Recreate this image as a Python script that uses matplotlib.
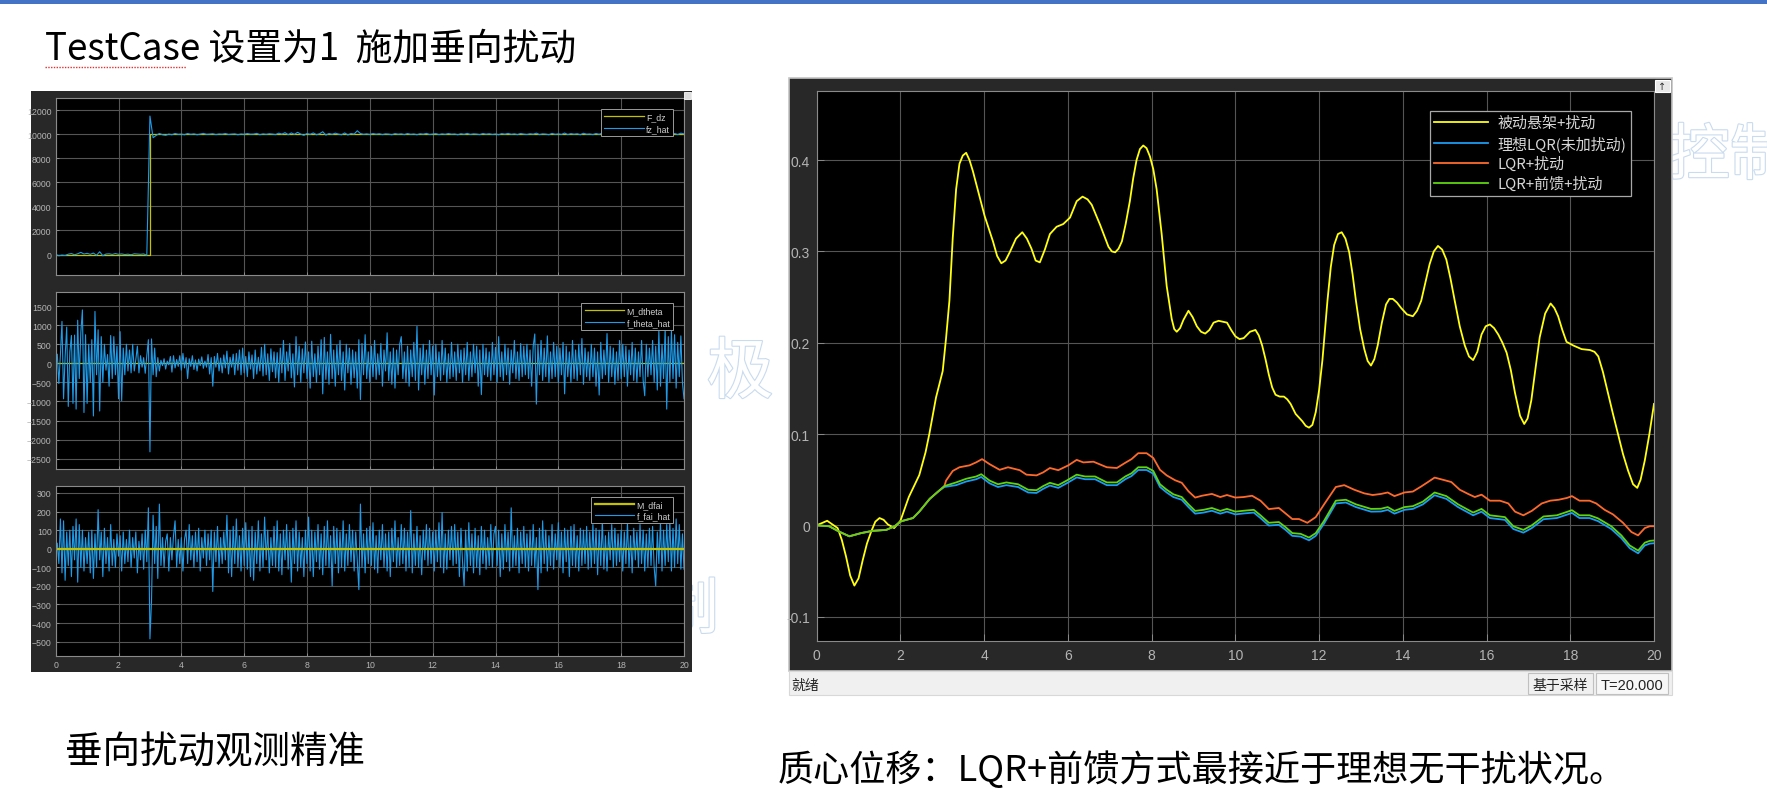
import numpy as np
import matplotlib.pyplot as plt
from matplotlib.patches import Rectangle
from matplotlib.lines import Line2D
import matplotlib.patheffects as pe

W, H = 1767, 804
CJK = ['Noto Sans CJK SC', 'DejaVu Sans']
plt.rcParams['font.family'] = CJK

# ---- left scope: fz_hat (0.1 s steps), F_dz step
fz_hat = [
    0, -100, -50, -80, 30, 80, -20, 60, 180, 40,
    100, 20, 120, -60, 230, -100, 40, 60, 10, 80,
    20, 50, 0, 30, -20, 60, 40, 20, 50, -60,
    11500, 9700, 9900, 10050, 9950, 9900, 10000, 9950, 10050, 9980,
    10000, 9950, 10050, 9980, 10020, 9950, 10000, 10060, 9980, 10000,
    10030, 9960, 10010, 9990, 10050, 9970, 10000, 10020, 9950, 10010,
    9980, 10050, 9990, 10000, 10060, 9950, 10020, 9980, 10030, 10000,
    9960, 10080, 10000, 10120, 9950, 10100, 9980, 10150, 10000, 9900,
    10050, 9980, 10100, 9950, 10030, 10200, 9920, 10050, 9980, 10080,
    10000, 9950, 10100, 9930, 10050, 10000, 10280, 10050, 9980, 10020,
    9970, 10050, 9990, 10030, 9960, 10020, 10000, 9950, 10040, 9990,
    10020, 9960, 10050, 9980, 10010, 9950, 10030, 9990, 10060, 9970,
    10000, 10040, 9960, 10020, 9980, 10050, 9990, 10010, 9950, 10030,
    9980, 10060, 9970, 10020, 10000, 9960, 10050, 9990, 10030, 9970,
    10010, 9950, 10040, 9990, 10060, 9980, 10020, 9960, 10050, 10000,
    9970, 10030, 9990, 10080, 9960, 10020, 10000, 9950, 10060, 9980,
    10020, 9970, 10090, 9960, 10040, 9990, 10030, 9950, 10070, 9990,
    10010, 9960, 10050, 9980, 10100, 9970, 10030, 9990, 10060, 9960,
    10040, 9980, 10110, 9950, 10070, 9990, 10080, 9960, 10050, 10000,
    9960, 10090, 9980, 10060, 9940, 10100, 9970, 10050, 9960, 10080,
    10020,
]
fdz_t = [0, 3, 3, 20]
fdz = [0, 0, 10000, 10000]

# ---- f_theta_hat (0.05 s steps), M_dtheta = 0
f_theta_hat = [
    0, 240, -530, 230, 1100, -930, 180, 950, -1130, 300, 730, -1050, 740, -1200, 1130, -400, 810, 1400, -1290, 750,
    -1050, 500, -500, 620, -1380, 1360, -300, 880, -1250, 700, -500, 500, -180, 230, -600, 730, -400, 700, -300, 450,
    -930, 830, -980, 400, -300, 500, -200, 350, -250, 500, -200, 100, 450, -250, 200, -100, 150, -260, 200, 620,
    -2320, 640, -300, 400, -350, 150, -200, 80, -60, 120, -150, 60, -40, 180, -230, 200, -120, 100, -80, 200,
    -180, 260, -120, 150, -400, 120, -80, 200, -160, 90, -200, 110, -60, 170, -130, 60, -100, 230, -280, 150,
    -600, 180, -100, 260, -200, 140, -250, 220, -120, 320, -280, 160, -100, 240, -300, 260, -180, 350, -300, 400,
    -250, 180, -350, 300, -150, 220, -400, 350, -280, 160, -200, 420, -330, 500, -300, 250, -450, 380, -220, 300,
    -380, 280, -500, 400, -250, 600, -450, 300, -200, 520, -380, 250, -620, 700, -300, 450, -500, 380, -250, 560,
    -400, 300, -650, 580, -350, 250, -500, 450, -300, 620, -800, 680, -420, 300, -550, 760, -400, 350, -600, 480,
    -300, 600, -450, 300, -700, 500, -250, 400, -550, 350, -380, 300, -650, 620, -950, 520, -300, 750, -400, 300,
    -500, 450, -350, 600, -420, 250, -300, 520, -600, 350, -200, 800, -450, 300, -550, 400, -650, 350, -300, 500,
    700, -400, 300, -500, 450, -600, 350, -350, 550, -450, 970, -700, 400, -300, 500, -550, 350, -400, 600, -300,
    450, -830, 500, -350, 300, -450, 600, -300, 400, -500, 250, -400, 550, -350, 300, -450, 500, -250, 350, -500,
    400, -300, 550, -450, 300, -350, 500, -250, 450, -600, 350, -820, 500, -300, 400, -350, 300, -450, 550, -300,
    420, -500, 700, -350, 300, -450, 500, -300, 400, -550, 350, -250, 600, -400, 300, -450, 520, -350, 450, -300,
    500, -400, 350, -600, 450, 770, -1070, 500, -300, 600, -450, 400, -350, 720, -500, 300, -400, 550, -350, 450,
    -500, 400, -300, 550, -800, 450, -350, 300, -500, 600, -400, 350, -450, 500, -300, 650, -550, 400, -350, 300,
    -450, 500, -350, 400, -600, 300, -830, 550, -400, 350, -300, 780, -500, 450, -350, 400, -550, 300, -450, 600,
    -400, 500, -350, 450, -600, 350, -300, 550, -450, 400, -500, 300, -350, 600, -450, -850, 500, -350, 400, -300,
    600, -500, 450, -700, 850, -600, 500, -400, 900, -1200, 700, -500, 850, -400, 750, -650, 550, -350, 720, -500,
    -930,
]

# ---- f_fai_hat (0.05 s steps), M_dfai = 0
f_fai_hat = [
    0, 30, -80, 160, -130, 150, -170, 90, -90, 100, -150, 120, -60, 160, -180, 130, -100, 100, -120, 60,
    -80, 90, -130, 100, -160, 80, -100, 210, -60, 90, -150, 110, -80, 60, -120, 130, -90, 50, -100, 80,
    -40, 70, -120, 90, -80, 50, -70, 100, -100, 60, -50, 90, -130, 40, -60, 80, -110, 100, -70, 220,
    -485, -280, 180, -80, 120, -160, 240, -90, 60, -100, 40, 80, -120, 60, -60, 70, 150, -100, 50, -80,
    60, -120, 50, 100, -80, 130, -60, 70, -100, 90, -70, 110, -120, 60, -50, 100, -90, 80, -60, 100,
    -230, 90, -70, 120, -100, 60, -80, 90, -60, 180, -130, 100, -150, 120, -80, 160, -100, 70, -120, 110,
    -90, 140, -110, 100, -150, 120, -170, 90, -80, 150, -120, 80, -100, 170, -60, 100, -130, 60, -90, 120,
    -100, 150, -120, 80, -140, 100, -60, 130, -110, 90, -180, 110, -80, 150, -120, 90, -100, 60, -150, 100,
    -80, 170, -120, 100, -150, 90, -70, 130, -110, 80, -140, 120, -90, 150, -100, 70, -200, 120, -80, 110,
    -130, 90, -100, 150, -120, 80, -90, 130, -70, 100, -120, 90, -60, -220, 240, -100, 80, -130, 110, -80,
    120, -90, 140, -110, 70, -130, 100, -60, 130, -100, 80, -120, 90, -150, 110, -70, 150, -100, 60, -90,
    130, -80, 110, -120, 90, -100, 205, -130, 80, -90, 120, -100, 70, -140, 100, -60, 130, -90, 110, -80,
    90, -120, 100, -70, 140, -100, 195, -130, 80, -110, 100, -60, 120, -90, 130, -80, 90, -150, 110, -70,
    -200, 100, -120, 140, -90, 80, -130, 110, -100, 70, -140, 120, -80, 100, -110, 60, -90, 130, -100, 80,
    120, -90, 100, -150, 80, -110, 130, -70, 90, -120, 220, -100, 70, -90, 110, -130, 90, -80, 120, -100,
    80, -120, 100, -90, 130, -100, 60, -220, 110, -130, 150, -80, 100, -120, 70, -90, 130, -110, 80, -60,
    140, -100, 90, -130, 110, -70, 100, -150, 120, -90, 130, -100, 70, -120, 110, -90, 100, -80, 120, -110,
    90, -100, 130, -80, 110, -140, 100, -90, 150, -110, 70, -120, 90, -60, 130, -100, 110, -90, 80, -70,
    100, -120, 90, -80, 140, -100, 70, -130, 110, -60, 90, -100, 130, -80, 100, -120, 80, -100, 110, -90,
    120, -100, -200, 90, -80, 140, -120, 100, -90, 130, -70, 150, -120, 110, -100, 160, -80, 130, -110, 80,
    -110,
]

# ---- right scope: centre-of-mass displacement (t, value)
passive_pts = [
    (0, 0), (0.25, 0.005), (0.5, -0.003), (0.6, -0.016), (0.7, -0.034), (0.8, -0.055), (0.9, -0.066),
    (1.0, -0.058), (1.1, -0.038), (1.2, -0.02), (1.3, -0.007), (1.4, 0.004), (1.5, 0.008), (1.6, 0.006),
    (1.7, 0.001), (1.85, -0.003), (2.0, 0.005), (2.2, 0.031), (2.45, 0.055), (2.6, 0.08),
    (2.69, 0.1), (2.85, 0.14), (3.01, 0.169), (3.09, 0.205), (3.17, 0.246), (3.25, 0.315), (3.33, 0.368),
    (3.41, 0.396), (3.49, 0.405), (3.57, 0.408), (3.65, 0.4), (3.73, 0.388), (3.89, 0.36), (4.01, 0.339),
    (4.21, 0.311), (4.31, 0.295), (4.41, 0.287), (4.51, 0.29), (4.61, 0.299), (4.76, 0.314), (4.91, 0.321),
    (5.02, 0.314), (5.13, 0.303), (5.23, 0.29), (5.33, 0.288), (5.45, 0.302), (5.57, 0.319), (5.73, 0.327),
    (5.89, 0.33), (6.05, 0.337), (6.21, 0.355), (6.35, 0.36), (6.47, 0.357), (6.57, 0.351), (6.77, 0.329),
    (6.97, 0.305), (7.05, 0.3), (7.13, 0.299), (7.21, 0.303), (7.29, 0.311), (7.38, 0.33), (7.48, 0.355),
    (7.56, 0.38), (7.64, 0.4), (7.72, 0.412), (7.8, 0.416), (7.88, 0.413), (7.96, 0.404), (8.04, 0.39),
    (8.12, 0.368), (8.24, 0.319), (8.36, 0.262), (8.48, 0.226), (8.54, 0.215), (8.6, 0.212), (8.68, 0.216),
    (8.76, 0.225), (8.88, 0.235), (8.98, 0.228), (9.08, 0.218), (9.18, 0.212), (9.28, 0.21), (9.38, 0.214),
    (9.48, 0.222), (9.6, 0.224), (9.8, 0.222), (9.9, 0.214), (10.0, 0.207), (10.1, 0.204), (10.2, 0.205),
    (10.35, 0.212), (10.48, 0.214), (10.56, 0.208), (10.64, 0.197), (10.72, 0.182), (10.8, 0.165),
    (10.88, 0.151), (10.96, 0.143), (11.06, 0.141), (11.16, 0.141), (11.24, 0.138), (11.32, 0.133),
    (11.44, 0.122), (11.6, 0.114), (11.68, 0.109), (11.76, 0.107), (11.84, 0.11), (11.92, 0.124),
    (12.0, 0.148), (12.08, 0.181), (12.2, 0.246), (12.28, 0.283), (12.36, 0.307), (12.45, 0.319),
    (12.54, 0.321), (12.63, 0.314), (12.72, 0.299), (12.8, 0.275), (12.88, 0.246), (12.98, 0.215),
    (13.08, 0.193), (13.16, 0.18), (13.24, 0.175), (13.32, 0.182), (13.4, 0.197), (13.5, 0.222), (13.6, 0.242),
    (13.68, 0.248), (13.76, 0.248), (13.86, 0.244), (13.96, 0.238), (14.1, 0.231), (14.24, 0.229),
    (14.34, 0.235), (14.44, 0.246), (14.54, 0.266), (14.64, 0.286), (14.74, 0.3), (14.84, 0.306), (14.94, 0.302),
    (15.04, 0.291), (15.14, 0.27), (15.24, 0.246), (15.36, 0.218), (15.48, 0.197), (15.58, 0.185), (15.68, 0.181),
    (15.78, 0.19), (15.88, 0.209), (15.98, 0.218), (16.08, 0.22), (16.18, 0.216), (16.28, 0.209), (16.38, 0.2),
    (16.48, 0.189), (16.58, 0.17), (16.68, 0.145), (16.8, 0.12), (16.9, 0.111), (16.98, 0.117), (17.07, 0.137),
    (17.17, 0.172), (17.27, 0.206), (17.4, 0.232), (17.53, 0.243), (17.62, 0.238), (17.71, 0.229), (17.81, 0.214),
    (17.91, 0.201), (18.07, 0.197), (18.27, 0.193), (18.47, 0.192), (18.58, 0.19), (18.67, 0.185), (18.78, 0.168),
    (18.9, 0.145), (19.02, 0.122), (19.14, 0.1), (19.26, 0.078), (19.38, 0.06), (19.5, 0.045), (19.6, 0.041),
    (19.68, 0.05), (19.78, 0.071), (19.89, 0.1), (20.0, 0.133),
]
ideal_pts = [
    (0, 0), (0.3, -0.001), (0.54, -0.007), (0.78, -0.012), (1.06, -0.0085), (1.34, -0.006), (1.66, -0.005),
    (1.86, -0.001), (2.02, 0.0045), (2.3, 0.008), (2.45, 0.015), (2.7, 0.029), (2.9, 0.037), (3.05, 0.042),
    (3.33, 0.044), (3.57, 0.048), (3.81, 0.0505), (3.93, 0.053), (4.13, 0.046), (4.33, 0.042), (4.53, 0.044),
    (4.81, 0.042), (5.05, 0.036), (5.25, 0.0355), (5.41, 0.04), (5.57, 0.0436), (5.77, 0.041), (5.97, 0.046),
    (6.21, 0.0525), (6.41, 0.0505), (6.65, 0.0505), (6.93, 0.044), (7.17, 0.044), (7.37, 0.0505), (7.52, 0.054),
    (7.68, 0.0606), (7.88, 0.0606), (8.04, 0.0566), (8.2, 0.042), (8.36, 0.036), (8.52, 0.031), (8.72, 0.028),
    (8.88, 0.02), (9.04, 0.0128), (9.24, 0.014), (9.44, 0.016), (9.64, 0.0128), (9.8, 0.015), (10.0, 0.012),
    (10.2, 0.013), (10.44, 0.014), (10.6, 0.008), (10.8, -0.0002), (11.04, 0.0006), (11.2, -0.005), (11.36, -0.0115),
    (11.56, -0.0123), (11.76, -0.0164), (11.92, -0.0115), (12.12, 0.002), (12.4, 0.024), (12.64, 0.025),
    (12.88, 0.02), (13.24, 0.015), (13.48, 0.0152), (13.64, 0.017), (13.8, 0.0128), (14.04, 0.017), (14.24, 0.018),
    (14.48, 0.023), (14.76, 0.033), (15.04, 0.029), (15.32, 0.02), (15.68, 0.011), (15.88, 0.015), (16.08, 0.008),
    (16.44, 0.006), (16.64, -0.004), (16.88, -0.008), (17.08, -0.003), (17.36, 0.0067), (17.68, 0.008),
    (18.04, 0.0136), (18.22, 0.008), (18.46, 0.008), (18.66, 0.0047), (18.98, -0.004), (19.22, -0.014),
    (19.42, -0.025), (19.62, -0.0306), (19.78, -0.022), (19.9, -0.02), (20.0, -0.0196),
]
lqr_pts = [
    (0, 0), (0.3, -0.001), (0.54, -0.007), (0.78, -0.012), (1.06, -0.0085), (1.34, -0.006), (1.66, -0.005),
    (1.86, -0.001), (2.02, 0.0045), (2.3, 0.008), (2.45, 0.015), (2.7, 0.029), (2.9, 0.037), (3.05, 0.043),
    (3.09, 0.049), (3.25, 0.0596), (3.41, 0.0636), (3.65, 0.0657), (3.81, 0.069), (3.95, 0.0725), (4.13, 0.067),
    (4.37, 0.0608), (4.57, 0.0636), (4.85, 0.0604), (5.01, 0.0555), (5.25, 0.0547), (5.41, 0.058), (5.57, 0.0628),
    (5.77, 0.0604), (6.01, 0.0657), (6.21, 0.0717), (6.37, 0.0689), (6.61, 0.0697), (6.93, 0.0636), (7.17, 0.0628),
    (7.37, 0.0685), (7.52, 0.0725), (7.68, 0.079), (7.88, 0.079), (8.04, 0.0738), (8.2, 0.0608), (8.36, 0.0547),
    (8.56, 0.0494), (8.72, 0.0466), (8.88, 0.0373), (9.04, 0.0304), (9.2, 0.0324), (9.44, 0.0344), (9.64, 0.031),
    (9.8, 0.0332), (10.0, 0.0304), (10.2, 0.031), (10.4, 0.0324), (10.6, 0.027), (10.8, 0.0178), (11.04, 0.019),
    (11.2, 0.013), (11.36, 0.0069), (11.52, 0.0069), (11.72, 0.0028), (11.92, 0.009), (12.12, 0.023), (12.4, 0.042),
    (12.6, 0.044), (12.84, 0.039), (13.08, 0.035), (13.28, 0.0332), (13.48, 0.0344), (13.64, 0.036), (13.8, 0.032),
    (14.04, 0.036), (14.24, 0.037), (14.44, 0.0426), (14.6, 0.0474), (14.76, 0.0523), (15.0, 0.0494), (15.16, 0.0474),
    (15.36, 0.039), (15.56, 0.0344), (15.72, 0.031), (15.88, 0.0336), (16.08, 0.027), (16.32, 0.027), (16.52, 0.024),
    (16.68, 0.015), (16.88, 0.011), (17.08, 0.0158), (17.32, 0.024), (17.52, 0.027), (17.72, 0.028), (17.92, 0.03),
    (18.04, 0.032), (18.22, 0.027), (18.46, 0.027), (18.62, 0.024), (18.82, 0.017), (19.02, 0.012), (19.26, 0.0028),
    (19.46, -0.0073), (19.62, -0.011), (19.78, -0.003), (19.9, -0.001), (20.0, -0.001),
]
lqr_ff_pts = [
    (0, 0), (0.3, -0.001), (0.54, -0.007), (0.78, -0.012), (1.06, -0.0085), (1.34, -0.006), (1.66, -0.005),
    (1.86, -0.001), (2.02, 0.0045), (2.3, 0.008), (2.45, 0.015), (2.7, 0.029), (2.9, 0.037), (3.05, 0.043),
    (3.33, 0.047), (3.57, 0.051), (3.81, 0.0535), (3.93, 0.056), (4.13, 0.049), (4.33, 0.045), (4.53, 0.047),
    (4.81, 0.045), (5.05, 0.039), (5.25, 0.0385), (5.41, 0.043), (5.57, 0.0466), (5.77, 0.044), (5.97, 0.049),
    (6.21, 0.0555), (6.41, 0.0535), (6.65, 0.0535), (6.93, 0.047), (7.17, 0.047), (7.37, 0.0535), (7.52, 0.057),
    (7.68, 0.0636), (7.88, 0.0636), (8.04, 0.0596), (8.2, 0.045), (8.36, 0.039), (8.52, 0.034), (8.72, 0.031),
    (8.88, 0.023), (9.04, 0.0158), (9.24, 0.017), (9.44, 0.019), (9.64, 0.0158), (9.8, 0.018), (10.0, 0.015),
    (10.2, 0.016), (10.44, 0.017), (10.6, 0.011), (10.8, 0.0028), (11.04, 0.0036), (11.2, -0.002), (11.36, -0.0085),
    (11.56, -0.0093), (11.76, -0.0134), (11.92, -0.0085), (12.12, 0.005), (12.4, 0.027), (12.64, 0.028),
    (12.88, 0.023), (13.24, 0.018), (13.48, 0.0182), (13.64, 0.02), (13.8, 0.0158), (14.04, 0.02), (14.24, 0.021),
    (14.48, 0.026), (14.76, 0.036), (15.04, 0.032), (15.32, 0.023), (15.68, 0.014), (15.88, 0.018), (16.08, 0.011),
    (16.44, 0.009), (16.64, -0.001), (16.88, -0.005), (17.08, 0.0), (17.36, 0.0097), (17.68, 0.011),
    (18.04, 0.0166), (18.22, 0.011), (18.46, 0.011), (18.66, 0.0077), (18.98, -0.001), (19.22, -0.011),
    (19.42, -0.022), (19.62, -0.0276), (19.78, -0.019), (19.9, -0.017), (20.0, -0.0166),
]
right_labels = ['被动悬架+扰动', '理想LQR(未加扰动)', 'LQR+扰动', 'LQR+前馈+扰动']
right_colors = ['#ffff11', '#1b9cf2', '#ff6a2b', '#5fd40f']

title_text = 'TestCase 设置为1  施加垂向扰动'
note_left = '垂向扰动观测精准'
note_right = '质心位移：LQR+前馈方式最接近于理想无干扰状况。'

SCOPE_BG = '#282828'
GRID = '#555555'
TICKC = '#b4b4b4'
YEL_L = '#c2c200'
BLU_L = '#1f9be8'


def box(x0, y0, x1, y1):
    return [x0 / W, 1 - y1 / H, (x1 - x0) / W, (y1 - y0) / H]


def rect(x0, y0, x1, y1, **kw):
    b = box(x0, y0, x1, y1)
    r = Rectangle((b[0], b[1]), b[2], b[3], transform=fig.transFigure, **kw)
    fig.add_artist(r)
    return r


def ftext(x, y, s, **kw):
    return fig.text(x / W, 1 - y / H, s, **kw)


def style_scope(ax, fs, tl):
    ax.set_facecolor('black')
    for sp in ax.spines.values():
        sp.set_color('#8a8a8a')
        sp.set_linewidth(0.8)
    ax.grid(True, color=GRID, linewidth=0.8)
    ax.set_axisbelow(True)
    ax.tick_params(direction='in', colors='#8a8a8a', labelcolor=TICKC, labelsize=fs,
                   length=tl, width=0.7, pad=3)
    for lab in ax.get_xticklabels() + ax.get_yticklabels():
        lab.set_fontfamily('Liberation Sans')


fig = plt.figure(figsize=(W / 100, H / 100), dpi=100, facecolor='white')

# slide decoration
rect(0, 0, W, 5, facecolor='#4472c4', edgecolor='none', zorder=-5)
ftext(45, 49, title_text, fontsize=26.5, fontweight='light', color='black', va='center', ha='left')
fig.add_artist(Line2D([45 / W, 186 / W], [1 - 68 / H, 1 - 68 / H], color='#e03030',
                      linewidth=1.0, linestyle=(0, (1, 1)), transform=fig.transFigure))
ftext(65, 753, note_left, fontsize=27, fontweight='light', color='black', va='center', ha='left')
ftext(778, 770, note_right, fontsize=26, fontweight='light', color='black', va='center', ha='left')

# faint watermark glyphs (partly hidden behind the scope windows)
wm = dict(color='white', zorder=-10, va='center', ha='center',
          path_effects=[pe.withStroke(linewidth=1.6, foreground='#c9dbef')])
ftext(740, 375, '极', fontsize=48, **wm)
ftext(1730, 158, '控制', fontsize=44, **wm)
ftext(688, 612, '制', fontsize=44, **wm)

# ---------------- left scope window
rect(31, 92, 692, 673, facecolor=SCOPE_BG, edgecolor='none', zorder=-5)
rect(684, 93, 691, 100, facecolor='#dddddd', edgecolor='#ffffff', linewidth=0.6, zorder=5)

t10 = np.linspace(0, 20, len(fz_hat))
t05 = np.linspace(0, 20, len(f_theta_hat))
t05b = np.linspace(0, 20, len(f_fai_hat))

ax1 = fig.add_axes(box(55.7, 99, 684, 276))
ax1.plot(fdz_t, fdz, color=YEL_L, lw=0.9, label='F_dz')
ax1.plot(t10, fz_hat, color=BLU_L, lw=0.8, label='fz_hat')
ax1.set_ylim(-1700, 13000)
ax1.set_yticks(np.arange(0, 12001, 2000))

ax2 = fig.add_axes(box(55.7, 293, 684, 470))
ax2.plot([0, 20], [0, 0], color=YEL_L, lw=0.9, label='M_dtheta')
ax2.plot(t05, f_theta_hat, color=BLU_L, lw=0.8, label='f_theta_hat')
ax2.set_ylim(-2770, 1870)
ax2.set_yticks(np.arange(-2500, 1501, 500))

ax3 = fig.add_axes(box(55.7, 486.5, 684, 657))
ax3.plot(t05b, f_fai_hat, color=BLU_L, lw=0.8, label='f_fai_hat')
ax3.plot([0, 20], [0, 0], color=YEL_L, lw=1.6, label='M_dfai')
ax3.set_ylim(-577, 340)
ax3.set_yticks(np.arange(-500, 301, 100))

for ax in (ax1, ax2, ax3):
    ax.set_xlim(0, 20)
    ax.set_xticks(np.arange(0, 21, 2))
    style_scope(ax, 6.3, 2.5)
    if ax is not ax3:
        ax.tick_params(labelbottom=False)
    hh, ll = ax.get_legend_handles_labels()
    if ax is ax3:
        hh, ll = hh[::-1], ll[::-1]
    leg = ax.legend(hh, ll, loc='upper right', facecolor='black', edgecolor='#9a9a9a',
                    labelcolor='#d0d0d0', framealpha=1, handlelength=4.5, borderpad=0.35,
                    labelspacing=0.25, handletextpad=0.3, fancybox=False,
                    bbox_to_anchor=(0.99, 0.96), prop={'family': 'Liberation Sans', 'size': 6.3})
    leg.get_frame().set_linewidth(0.7)

# ---------------- right scope window
rect(789, 79, 1672, 672, facecolor=SCOPE_BG, edgecolor='#c4c4c4', linewidth=1.2, zorder=-5)
rect(789, 672, 1672, 696, facecolor='#f0f0f0', edgecolor='#d8d8d8', linewidth=0.8, zorder=-4)
rect(1528, 674, 1593, 695, facecolor='#f0f0f0', edgecolor='#c0c0c0', linewidth=0.8, zorder=-3)
rect(1596, 674, 1668, 695, facecolor='#f7f7f7', edgecolor='#c0c0c0', linewidth=0.8, zorder=-3)
ftext(791, 686, '就绪', fontsize=10, color='#222222', va='center', ha='left')
ftext(1560, 686, '基于采样', fontsize=10, color='#222222', va='center', ha='center')
ftext(1632, 686, 'T=20.000', fontsize=10.5, color='#222222', va='center', ha='center',
      family='Liberation Sans')
rect(1655, 81, 1670, 93, facecolor='#e8e8e8', edgecolor='#ffffff', linewidth=0.8, zorder=5)
ftext(1662.5, 87, '↑', fontsize=7, color='#333333', va='center', ha='center',
      family='DejaVu Sans', zorder=6)

axr = fig.add_axes(box(816.7, 91.7, 1654, 642.3))
for pts, lab, col in zip([passive_pts, ideal_pts, lqr_pts, lqr_ff_pts], right_labels, right_colors):
    tt = [p[0] for p in pts]
    vv = [p[1] for p in pts]
    axr.plot(tt, vv, color=col, lw=1.3, label=lab)
axr.set_xlim(0, 20)
axr.set_ylim(-0.127, 0.476)
axr.set_xticks(np.arange(0, 21, 2))
axr.set_yticks([-0.1, 0, 0.1, 0.2, 0.3, 0.4])
axr.set_yticklabels(['-0.1', '0', '0.1', '0.2', '0.3', '0.4'])
style_scope(axr, 10, 5)
axr.tick_params(pad=5)
leg = axr.legend(loc='upper right', bbox_to_anchor=(0.981, 0.976), fontsize=10.8,
                 facecolor='black', edgecolor='#a8a8a8', labelcolor='#d8d8d8', framealpha=1,
                 fancybox=False, handlelength=3.6, borderpad=0.3, labelspacing=0.33,
                 handletextpad=0.6)
leg.get_frame().set_linewidth(0.9)

fig.savefig('out.png', dpi=100, facecolor='white')
